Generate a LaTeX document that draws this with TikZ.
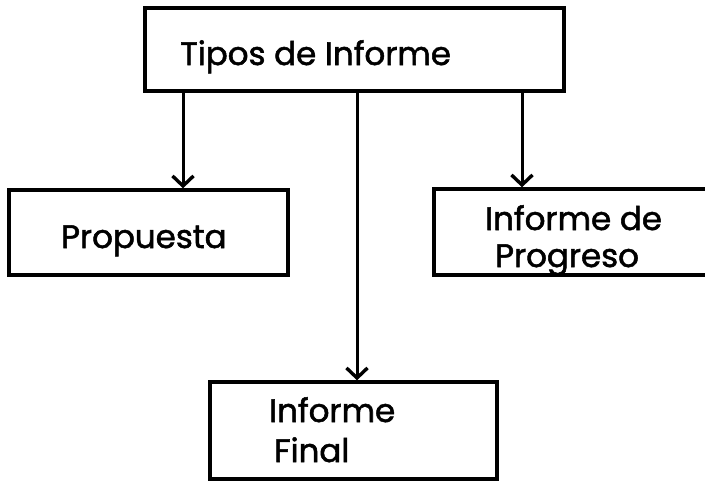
\documentclass[tikz,border=0pt]{standalone}
\usepackage{fontspec}
\setmainfont{Poppins}
\newfontfamily\labfont{Poppins}[FakeBold=1.6]
\usetikzlibrary{arrows.meta}
\begin{document}
\begin{tikzpicture}[x=1pt,y=-1pt,
  boxnode/.style={draw=black,line width=3.4pt,rectangle,inner sep=0pt},
  lbl/.style={anchor=base west,inner sep=0pt,font=\labfont\fontsize{32.5}{40}\selectfont},
  arr/.style={line width=3pt,-{Straight Barb[length=10pt,width=21pt,line width=3.4pt]}}]
\useasboundingbox (0,0) rectangle (705,480);
\fill[white] (0,0) rectangle (705,480);
\begin{scope}
\clip (0,0) rectangle (705,480);
\node[boxnode,minimum width=419pt,minimum height=83pt] (top) at (354.5,49.5) {};
\node[boxnode,minimum width=279pt,minimum height=85pt] (prop) at (148.5,232.5) {};
\node[boxnode,minimum width=326pt,minimum height=86pt] (prog) at (597,232) {};
\node[boxnode,minimum width=287pt,minimum height=97pt] (fin) at (353.5,430.5) {};
\end{scope}
\node[lbl] (t0) at (180,65) {Tipos de Informe};
\node[lbl] (t1) at (61,248) {Propuesta};
\node[lbl] (t2) at (485,230) {Informe de};
\node[lbl] (t3) at (495,267) {Progreso};
\node[lbl] (t4) at (269,422) {Informe};
\node[lbl] (t5) at (274,462) {Final};
\coordinate (xa) at (183,0);
\coordinate (xb) at (357,0);
\coordinate (xc) at (522,0);
\draw[arr] (top.south -| xa) -- (prop.north -| xa);
\draw[arr] (top.south -| xb) -- (fin.north -| xb);
\draw[arr] (top.south -| xc) -- (prog.north -| xc);
\end{tikzpicture}
\end{document}
